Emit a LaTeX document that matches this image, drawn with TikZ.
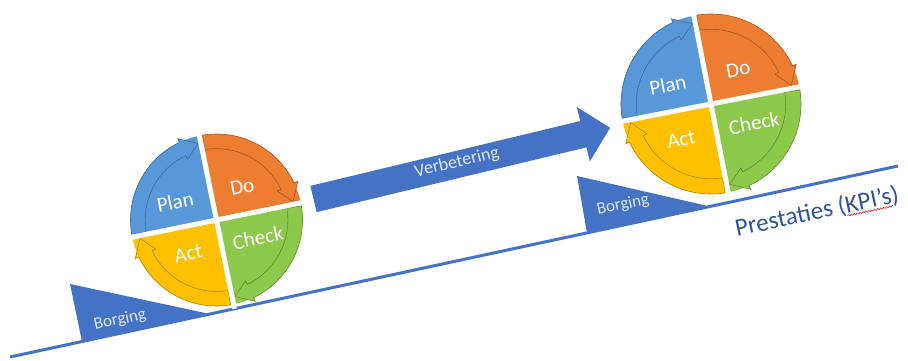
\documentclass[tikz,border=0pt]{standalone}
\usepackage{fontspec}
\setmainfont{Carlito}
\usetikzlibrary{calc, decorations.pathmorphing}

\definecolor{officeblue}{RGB}{68,114,196}
\definecolor{planblue}{RGB}{88,152,216}
\definecolor{doorange}{RGB}{237,125,49}
\definecolor{checkgreen}{RGB}{140,200,74}
\definecolor{actyellow}{RGB}{255,192,0}
\definecolor{kpiblue}{RGB}{47,85,151}
\definecolor{paletext}{RGB}{222,230,242}

\tikzset{
  pdcalabel/.style={text=white, font=\fontsize{21}{25}\selectfont, inner sep=0pt},
  borglabel/.style={text=paletext, font=\fontsize{17}{20}\selectfont, inner sep=0pt},
  kpilabel/.style={text=kpiblue, font=\fontsize{25}{30}\selectfont, inner sep=0pt},
  spellwave/.style={red, line width=0.5pt, decorate, decoration={snake, amplitude=0.8pt, segment length=3pt}},
}

% one PDCA wheel: #1 name, #2 centre, #3 radius, #4 tilt
\newcommand{\pdcawheel}[4]{%
  \begin{scope}[shift={#2}, rotate=#4]
    \foreach \col/\s in {planblue/180, doorange/90, checkgreen/0, actyellow/270}{
      \fill[\col] (0,0) -- (\s:#3) arc[start angle=\s, end angle=\s-90, radius=#3] -- cycle;
      \filldraw[fill=\col, draw=\col!70!black, line width=0.6pt]
        (\s-2:#3) arc[start angle=\s-2, end angle=\s-76, radius=#3]
        -- (\s-76:{#3+4}) -- (\s-88:{0.915*#3}) -- (\s-76:{0.83*#3-4})
        -- (\s-76:{0.83*#3}) arc[start angle=\s-76, end angle=\s-2, radius={0.83*#3}] -- cycle;
    }
    \draw[white, line width=5pt] ({-#3-4.5},0) -- ({#3+4.5},0) (0,{-#3-4.5}) -- (0,{#3+4.5});
    \node[pdcalabel, rotate=#4] (#1-plan) at ({-0.43*#3},{0.30*#3}) {Plan};
    \node[pdcalabel, rotate=#4] (#1-do) at ({0.37*#3},{0.32*#3}) {Do};
    \node[pdcalabel, rotate=#4] (#1-check) at ({0.43*#3},{-0.30*#3}) {Check};
    \node[pdcalabel, rotate=#4] (#1-act) at ({-0.40*#3},{-0.32*#3}) {Act};
  \end{scope}
}

\begin{document}
\begin{tikzpicture}[x=1pt,y=1pt]
  \useasboundingbox (0,0) rectangle (908,-360);

  % borging wedges
  \fill[officeblue] (70,-284) -- (82,-341.5) -- (210,-314) -- cycle;
  \fill[officeblue] (577,-176) -- (587,-233) -- (710,-206.5) -- cycle;

  % performance line
  \coordinate (base-start) at (10,-357);
  \coordinate (base-end) at (898,-166);
  \draw[officeblue, line width=3pt] (base-start) -- (base-end);

  % improvement arrow
  \begin{scope}[shift={(313.5,-199)}, rotate=13.5]
    \fill[officeblue] (0,-13.5) -- (277.5,-13.5) -- (277.5,-28) -- (305,0)
      -- (277.5,28) -- (277.5,13.5) -- (0,13.5) -- cycle;
    \node[borglabel, font=\fontsize{18}{22}\selectfont, rotate=13.5] (verbetering) at (148,2) {Verbetering};
  \end{scope}

  \pdcawheel{low}{(216.5,-220)}{86}{11.5}
  \pdcawheel{high}{(711,-104)}{90}{11}

  \node[borglabel, rotate=12] (borging-low) at (120,-320) {Borging};
  \node[borglabel, rotate=12] (borging-high) at (623,-205) {Borging};

  % performance label with spelling mark under KPI's
  \node[kpilabel, rotate=12] (prestaties) at (817,-212) {Prestaties (KPI’s)};
  \coordinate (kpi-start) at ($(prestaties.base west)!0.674!(prestaties.base east)$);
  \coordinate (kpi-end) at ($(prestaties.base west)!0.955!(prestaties.base east)$);
  \draw[spellwave] ($(kpi-start)!2.5pt!-90:(kpi-end)$) -- ($(kpi-end)!2.5pt!90:(kpi-start)$);
\end{tikzpicture}
\end{document}
